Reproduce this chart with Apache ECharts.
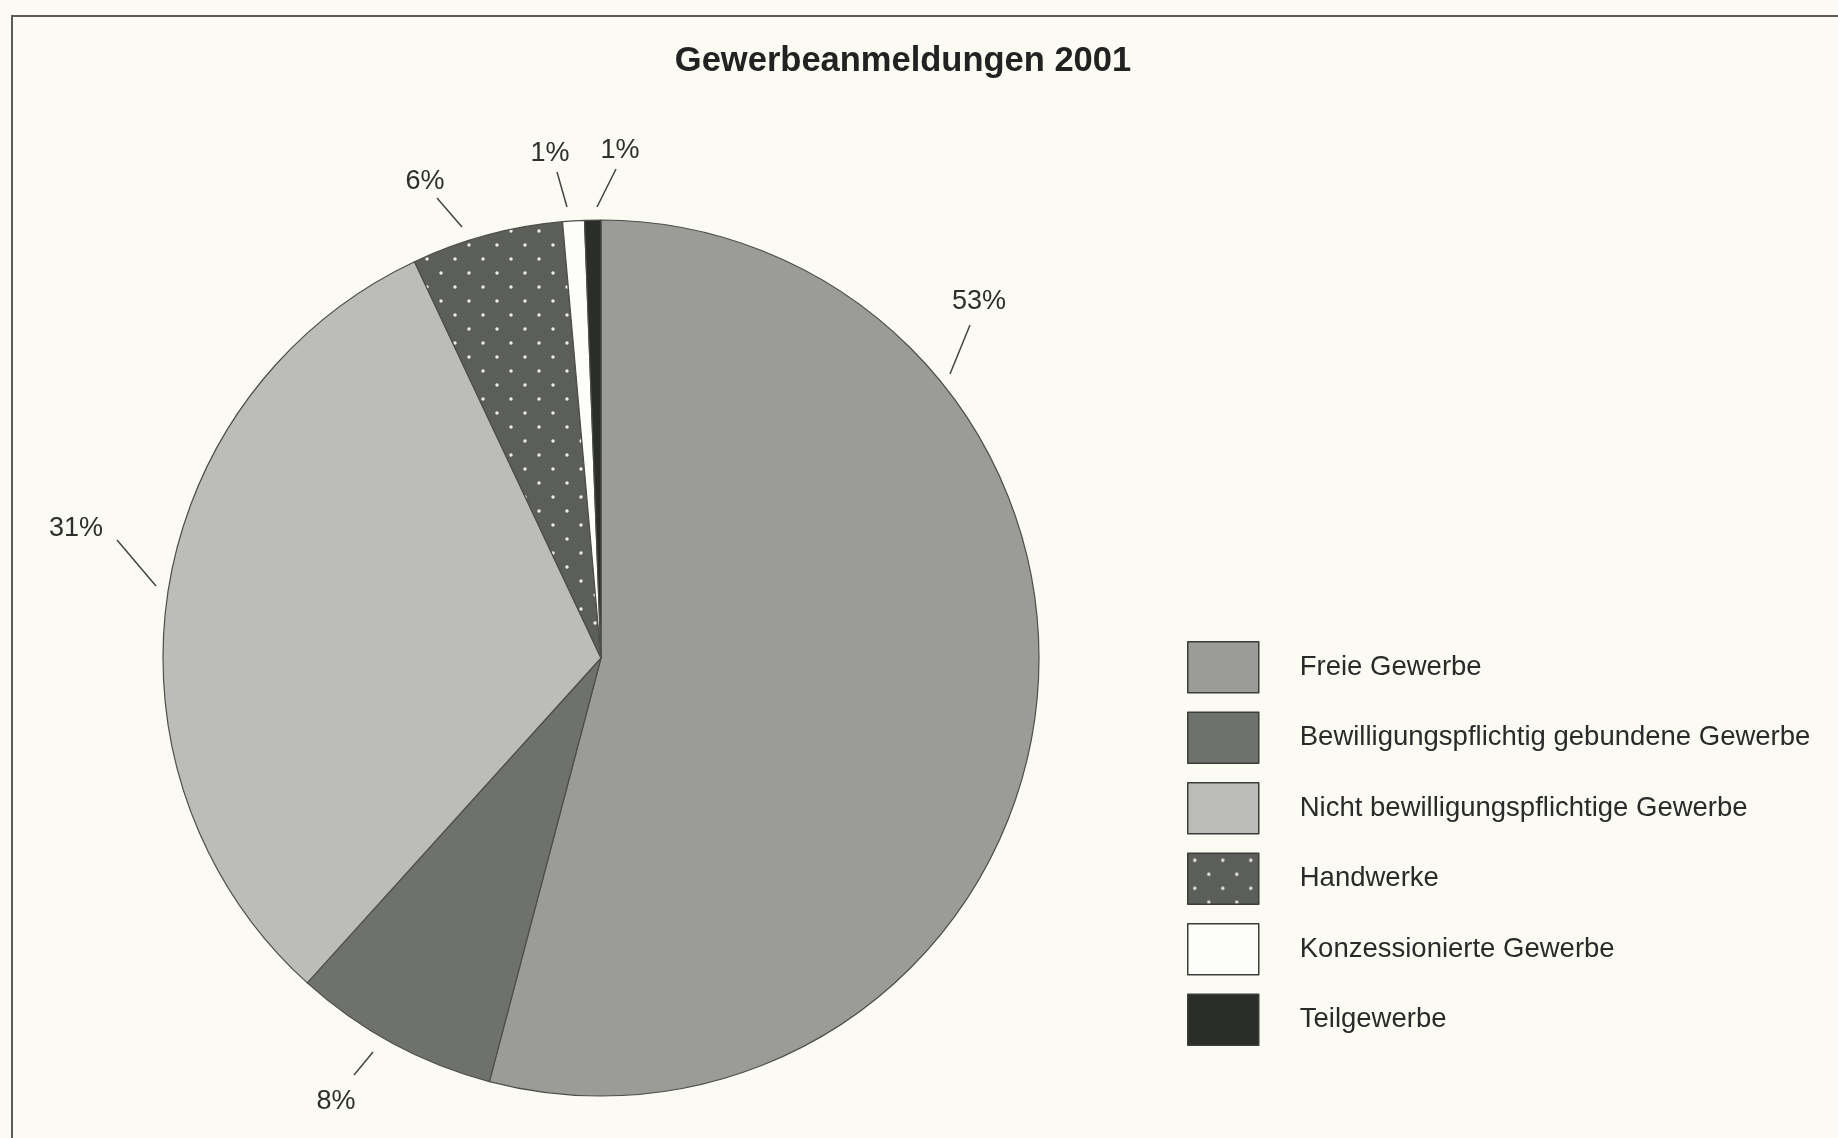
<!DOCTYPE html>
<html><head><meta charset="utf-8">
<script src="https://cdn.jsdelivr.net/npm/echarts@6/dist/echarts.min.js"></script>
<style>html,body{margin:0;padding:0;background:#fbfbf4}#c{width:1838px;height:1138px}</style>
</head><body><div id="c"></div>
<script>
// ---- data ----
const titleText = 'Gewerbeanmeldungen 2001';
const categories = ['Freie Gewerbe', 'Bewilligungspflichtig gebundene Gewerbe', 'Nicht bewilligungspflichtige Gewerbe', 'Handwerke', 'Konzessionierte Gewerbe', 'Teilgewerbe'];
const shares = [54.1, 7.6, 31.3, 5.6, 0.8, 0.6];
const percentLabels = ['53%', '8%', '31%', '6%', '1%', '1%'];

// ---- styles ----
const FONT = '"Liberation Sans", Arial, Helvetica, sans-serif';
const CX = 601, CY = 658, R = 438;
const sliceColors = ['#9b9c97', '#6f716c', '#bcbdb8', 'PATTERN', '#fdfdf9', '#2b2d29'];
// label leader geometry, offsets from the pie centre: line start, line end, text centre
const labelGeom = [
  {s: [349, -284], e: [369, -333], t: [378, -356]},
  {s: [-228, 394], e: [-247, 417], t: [-265, 444]},
  {s: [-445, -72], e: [-484, -118], t: [-525, -129]},
  {s: [-139, -431], e: [-164, -460], t: [-176, -476]},
  {s: [-34, -451], e: [-44, -486], t: [-51, -504]},
  {s: [-4, -451], e: [15, -489], t: [19, -507]}
];

function dotPattern() {
  const c = document.createElement('canvas');
  c.width = 28; c.height = 28;
  const g = c.getContext('2d');
  g.fillStyle = '#5c5e5a'; g.fillRect(0, 0, 28, 28);
  g.fillStyle = '#ededE6';
  [[7, 7], [21, 21]].forEach(([x, y]) => { g.beginPath(); g.arc(x, y, 1.7, 0, Math.PI * 2); g.fill(); });
  return c;
}
const pattern = {image: dotPattern(), repeat: 'repeat'};

const pieData = categories.map((name, i) => ({
  name: name,
  value: shares[i],
  itemStyle: {color: sliceColors[i] === 'PATTERN' ? pattern : sliceColors[i]}
}));

const chart = echarts.init(document.getElementById('c'), null, {renderer: 'canvas'});
chart.setOption({
  backgroundColor: '#fbfbf4',
  animation: false,
  graphic: [
    {type: 'rect', shape: {x: 12, y: 16, width: 1900, height: 1200}, style: {fill: 'none', stroke: '#5a5b58', lineWidth: 2}, silent: true},
    {type: 'text', x: 903, y: 61, style: {text: titleText, font: 'bold 34.5px ' + FONT, fill: '#222', align: 'center', verticalAlign: 'middle'}, silent: true}
  ],
  legend: {
    orient: 'vertical',
    left: 1182, top: 636,
    itemWidth: 71, itemHeight: 51, itemGap: 18,
    icon: 'rect',
    selectedMode: false,
    itemStyle: {borderColor: '#3c3d3a', borderWidth: 1.5},
    textStyle: {fontSize: 27.5, color: '#2a2a2a', fontFamily: FONT, padding: [0, 0, 0, 36]},
    data: categories
  },
  series: [{
    type: 'pie',
    center: [CX, CY],
    radius: R,
    startAngle: 90,
    clockwise: true,
    avoidLabelOverlap: false,
    minAngle: 0,
    data: pieData,
    itemStyle: {borderColor: '#4d4e4a', borderWidth: 1.2},
    emphasis: {disabled: true},
    label: {
      show: true, position: 'outside',
      formatter: p => percentLabels[p.dataIndex],
      fontSize: 27, color: '#2e2e2e', fontFamily: FONT
    },
    labelLine: {show: true, length: 20, length2: 0, lineStyle: {color: '#444', width: 1.5}},
    labelLayout: function (params) {
      const g = labelGeom[params.dataIndex];
      return {
        x: CX + g.t[0], y: CY + g.t[1],
        align: 'center', verticalAlign: 'middle',
        labelLinePoints: [[CX + g.s[0], CY + g.s[1]], [CX + g.e[0], CY + g.e[1]], [CX + g.e[0], CY + g.e[1]]]
      };
    }
  }]
});
</script>
</body></html>
